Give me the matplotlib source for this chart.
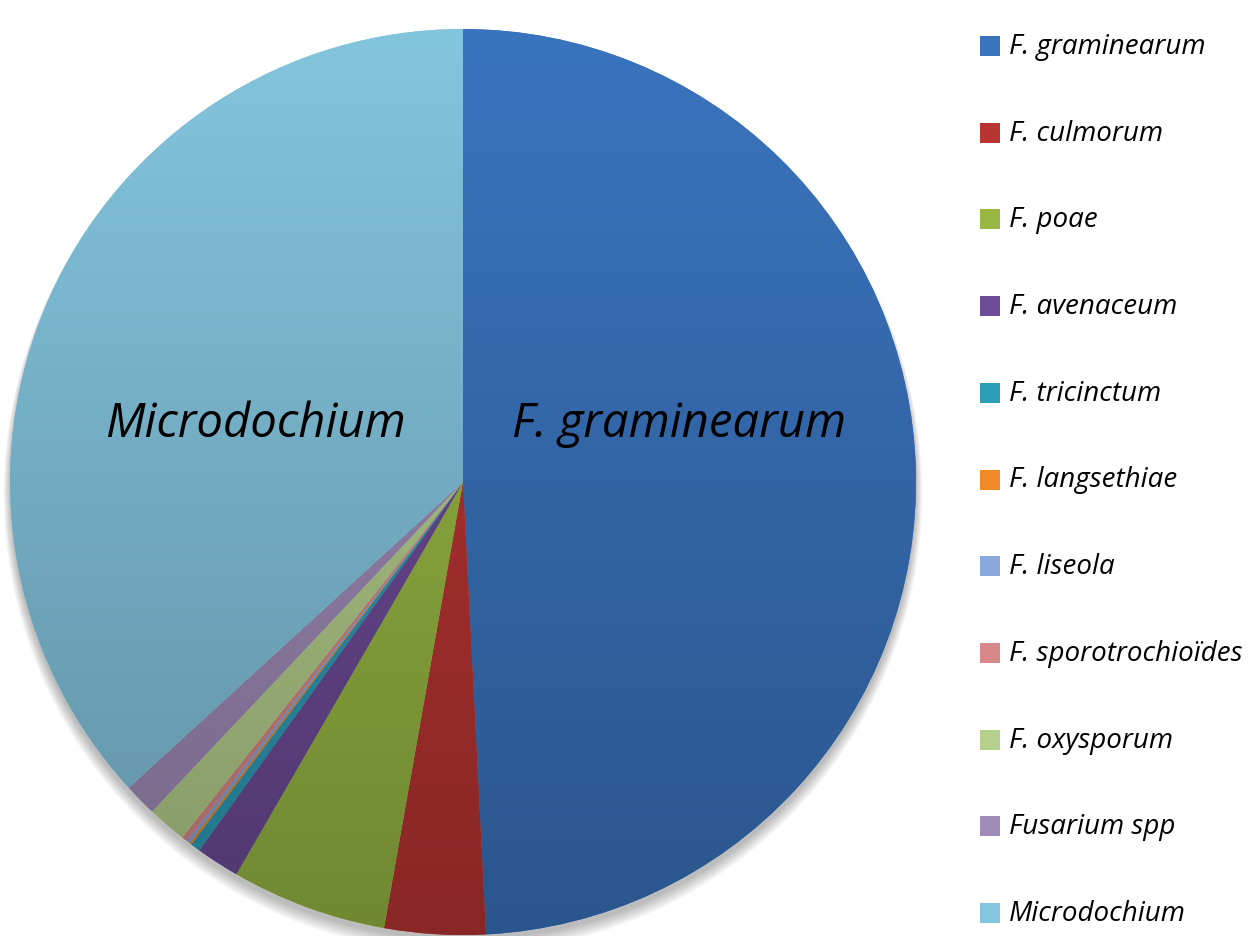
import numpy as np
import matplotlib.pyplot as plt
from matplotlib.colors import to_rgb
from matplotlib.patches import Rectangle, Circle

# share of each group (%)
species = ["F. graminearum", "F. culmorum", "F. poae", "F. avenaceum",
           "F. tricinctum", "F. langsethiae", "F. liseola",
           "F. sporotrochioïdes", "F. oxysporum", "Fusarium spp", "Microdochium"]
shares = [49.2, 3.6, 5.55, 1.55, 0.35, 0.08, 0.12, 0.2, 1.4, 1.17, 36.8]
colors = ["#3A74BE", "#B83533", "#98B843", "#6E4C98", "#2E9DB8", "#F08A28",
          "#8AA8DC", "#D88888", "#B5CF8C", "#A08CB8", "#84C5DE"]
inside_labels = {"F. graminearum": (0.477, 0.13), "Microdochium": (-0.459, 0.13)}

plt.rcParams['font.family'] = ['Open Sans', 'DejaVu Sans']

fig = plt.figure(figsize=(12.58, 9.37), dpi=100)
W, H = 1258, 937
cx, cy, r = 463, 483, 453
ax = fig.add_axes([(cx - r) / W, (H - cy - r) / H, 2 * r / W, 2 * r / H])
ax.axis('off')

# soft shadow under the pie
for i in range(8):
    ax.add_patch(Circle((0.0, -0.012 - i * 0.002), 1.0 + i * 0.002,
                        color='black', alpha=0.035, lw=0, zorder=0,
                        clip_on=False))

wedges, _ = ax.pie(shares, colors=colors, startangle=90, counterclock=False,
                   radius=1.0, wedgeprops=dict(linewidth=0))

# vertical gradient (light top, darker bottom) clipped to each wedge
grad = np.linspace(0.74, 1.0, 256).reshape(-1, 1)
for w, c in zip(wedges, colors):
    base = np.array(to_rgb(c))
    img = grad[:, :, None] * base[None, None, :]
    im = ax.imshow(img, extent=[-1, 1, -1, 1], origin='lower',
                   aspect='auto', zorder=2, interpolation='bilinear')
    im.set_clip_path(w)

for name, (x, y) in inside_labels.items():
    ax.text(x, y, name, fontsize=34, style='italic', ha='center',
            va='center', color='black', zorder=5)

ax.set_xlim(-1, 1)
ax.set_ylim(-1, 1)
ax.set_aspect('equal')

# legend
y0, dy = 47, 86.7
for i, (name, c) in enumerate(zip(species, colors)):
    yc = y0 + i * dy
    fig.patches.append(Rectangle((980 / W, 1 - (yc + 10) / H), 20 / W, 20 / H,
                                 transform=fig.transFigure, facecolor=c,
                                 edgecolor='none'))
    fig.text(1009 / W, 1 - yc / H, name, fontsize=20, style='italic',
             va='center', ha='left')

fig.savefig("out.png", dpi=100)
